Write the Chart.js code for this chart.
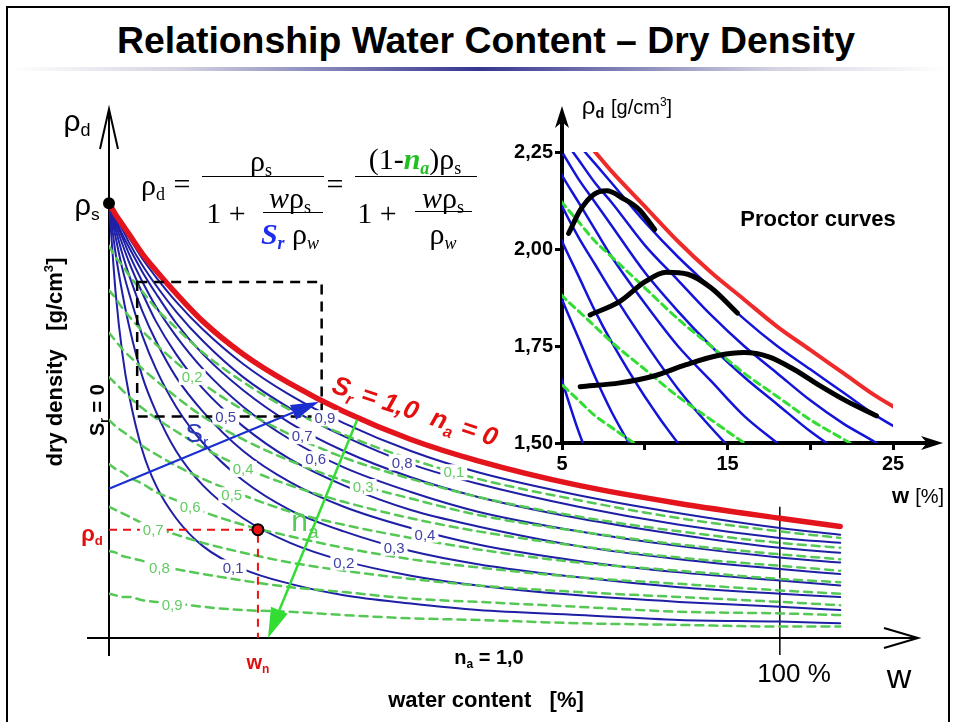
<!DOCTYPE html>
<html>
<head>
<meta charset="utf-8">
<script src="https://cdn.jsdelivr.net/npm/chart.js@4.4.1/dist/chart.umd.min.js"></script>
<style>
	body { margin: 0; width: 955px; height: 722px; overflow: hidden; position: relative; background: #fff; font-family: "Liberation Sans", Arial, sans-serif; }
	canvas { position: absolute; }
	.frame { position: absolute; left: 6px; top: 6px; width: 940px; height: 740px; border: 2px solid #000; }
	.rule { position: absolute; left: 10px; top: 67px; width: 936px; height: 4px; background: linear-gradient( to right, rgba(255,255,255,0), #d4d4e2 18%, #35358f 50%, #d4d4e2 82%, rgba(255,255,255,0) ); }
	.title { position: absolute; left: 0; width: 972px; top: 22px; text-align: center; font-weight: bold; font-size: 37px; line-height: 37px; white-space: nowrap; }
	.t { position: absolute; transform: translate( -50%, -50% ); white-space: nowrap; line-height: 1; }
	.t sub { font-size: 60%; vertical-align: -0.3em; line-height: 0; }
	.t sup { font-size: 60%; vertical-align: 0.65em; line-height: 0; }
	.f { font-family: "Liberation Serif", "Times New Roman", serif; font-size: 30px; }
	.bar { position: absolute; height: 0; border-top: 1.6px solid #000; }
	.rot { transform: translate( -50%, -50% ) rotate( -90deg ); }
</style>
</head>
<body>
<div class="frame"></div>
<div class="title" id="title">Relationship Water Content – Dry Density</div>
<div class="rule"></div>

<canvas id="main" width="955" height="722" style="left:0;top:0"></canvas>
<canvas id="inset" width="475" height="440" style="left:480px;top:80px"></canvas>

<!-- formula -->
<div class="t f" style="left:153px;top:185px">ρ<sub>d</sub></div>
<div class="t f" style="left:182px;top:184px">=</div>
<div class="bar" style="left:202px;top:176px;width:122px"></div>
<div class="t f" style="left:261px;top:161px">ρ<sub>s</sub></div>
<div class="t f" style="left:226px;top:213px">1 +</div>
<div class="t f" style="left:290px;top:198px"><i>w</i>ρ<sub>s</sub></div>
<div class="bar" style="left:263px;top:212px;width:60px"></div>
<div class="t f" style="left:290px;top:234px"><b><i style="color:#1d2cf0">S<sub>r</sub></i></b> ρ<sub><i>w</i></sub></div>
<div class="t f" style="left:335px;top:184px">=</div>
<div class="bar" style="left:355px;top:176px;width:122px"></div>
<div class="t f" style="left:415px;top:159px">(1-<b><i style="color:#20c020">n<sub>a</sub></i></b>)ρ<sub>s</sub></div>
<div class="t f" style="left:377px;top:213px">1 +</div>
<div class="t f" style="left:443px;top:198px"><i>w</i>ρ<sub>s</sub></div>
<div class="bar" style="left:415px;top:211px;width:57px"></div>
<div class="t f" style="left:443px;top:234px">ρ<sub><i>w</i></sub></div>

<!-- main axis texts -->
<div class="t" style="left:77px;top:121px;font-size:30px">ρ<sub>d</sub></div>
<div class="t" style="left:87px;top:205px;font-size:29px">ρ<sub>s</sub></div>
<div class="t rot" style="left:55px;top:362px;font-size:22px;font-weight:bold">dry density &nbsp; [g/cm<sup>3</sup>]</div>
<div class="t rot" style="left:97px;top:410px;font-size:20px;font-weight:bold">S<sub>r</sub> = 0</div>
<div class="t" style="left:92px;top:534px;font-size:22px;font-weight:bold;color:#e01010">ρ<sub>d</sub></div>
<div class="t" style="left:258px;top:662px;font-size:20px;font-weight:bold;color:#e01010">w<sub>n</sub></div>
<div class="t" style="left:489px;top:657px;font-size:20px;font-weight:bold">n<sub>a</sub> = 1,0</div>
<div class="t" style="left:794px;top:673px;font-size:26px">100 %</div>
<div class="t" style="left:899px;top:676px;font-size:34px">w</div>
<div class="t" style="left:486px;top:700px;font-size:22px;font-weight:bold">water content &nbsp; [%]</div>

<!-- inset texts -->
<div class="t" style="left:818px;top:219px;font-size:22px;font-weight:bold">Proctor curves</div>
<div class="t" style="left:627px;top:106px;font-size:24px">ρ<sub style="font-weight:bold">d</sub> <span style="font-size:20px">[g/cm<sup>3</sup>]</span></div>
<div class="t" style="left:918px;top:496px;font-size:22px"><b>w</b> <span style="font-size:20px">[%]</span></div>

<script>
	'use strict';

	// ---- main chart: water content w [%] vs dry density rho_d [g/cm3] ----
	const waterContent = [ 0, 1, 2, 3, 5, 7, 10, 14, 20, 27, 35, 45, 55, 70, 85, 100, 109 ];

	// Sr = 1,0 / na = 0 (red)
	const drySat10 = [ 2.65, 2.58, 2.52, 2.46, 2.34, 2.24, 2.10, 1.93, 1.73, 1.55, 1.38, 1.21, 1.08, 0.93, 0.82, 0.73, 0.68 ];

	// Sr = 0,1 ... 0,9 (blue)
	const satLabels = [ '0,1', '0,2', '0,3', '0,4', '0,5', '0,6', '0,7', '0,8', '0,9' ];
	const drySat = [
		[ 2.65, 2.10, 1.73, 1.48, 1.14, 0.93, 0.73, 0.56, 0.42, 0.33, 0.26, 0.21, 0.17, 0.14, 0.11, 0.10, 0.09 ],
		[ 2.65, 2.34, 2.10, 1.90, 1.59, 1.38, 1.14, 0.93, 0.73, 0.58, 0.47, 0.38, 0.32, 0.26, 0.22, 0.19, 0.17 ],
		[ 2.65, 2.44, 2.25, 2.10, 1.84, 1.64, 1.41, 1.19, 0.96, 0.78, 0.65, 0.53, 0.45, 0.37, 0.31, 0.27, 0.25 ],
		[ 2.65, 2.49, 2.34, 2.21, 1.99, 1.81, 1.59, 1.38, 1.14, 0.95, 0.80, 0.67, 0.57, 0.47, 0.40, 0.35, 0.32 ],
		[ 2.65, 2.52, 2.40, 2.29, 2.10, 1.93, 1.73, 1.52, 1.29, 1.09, 0.93, 0.78, 0.68, 0.56, 0.48, 0.42, 0.39 ],
		[ 2.65, 2.54, 2.44, 2.34, 2.17, 2.02, 1.84, 1.64, 1.41, 1.21, 1.04, 0.89, 0.77, 0.65, 0.56, 0.49, 0.46 ],
		[ 2.65, 2.55, 2.46, 2.38, 2.23, 2.10, 1.92, 1.73, 1.51, 1.31, 1.14, 0.98, 0.86, 0.73, 0.63, 0.55, 0.52 ],
		[ 2.65, 2.57, 2.49, 2.41, 2.27, 2.15, 1.99, 1.81, 1.59, 1.40, 1.23, 1.06, 0.94, 0.80, 0.69, 0.61, 0.58 ],
		[ 2.65, 2.57, 2.50, 2.44, 2.31, 2.20, 2.05, 1.88, 1.67, 1.48, 1.31, 1.14, 1.01, 0.87, 0.76, 0.67, 0.63 ],
	];

	// na = 0,1 ... 0,9 (green dashed)
	const airLabels = [ '0,1', '0,2', '0,3', '0,4', '0,5', '0,6', '0,7', '0,8', '0,9' ];
	const dryAir = [
		[ 2.39, 2.32, 2.27, 2.21, 2.11, 2.01, 1.89, 1.74, 1.56, 1.39, 1.24, 1.09, 0.97, 0.84, 0.73, 0.65, 0.61 ],
		[ 2.12, 2.07, 2.01, 1.96, 1.87, 1.79, 1.68, 1.55, 1.39, 1.24, 1.10, 0.97, 0.86, 0.74, 0.65, 0.58, 0.55 ],
		[ 1.86, 1.81, 1.76, 1.72, 1.64, 1.57, 1.47, 1.35, 1.21, 1.08, 0.96, 0.85, 0.75, 0.65, 0.57, 0.51, 0.48 ],
		[ 1.59, 1.55, 1.51, 1.47, 1.40, 1.34, 1.26, 1.16, 1.04, 0.93, 0.83, 0.73, 0.65, 0.56, 0.49, 0.44, 0.41 ],
		[ 1.33, 1.29, 1.26, 1.23, 1.17, 1.12, 1.05, 0.97, 0.87, 0.77, 0.69, 0.61, 0.54, 0.46, 0.41, 0.36, 0.34 ],
		[ 1.06, 1.03, 1.01, 0.98, 0.94, 0.89, 0.84, 0.77, 0.69, 0.62, 0.55, 0.48, 0.43, 0.37, 0.33, 0.29, 0.27 ],
		[ 0.80, 0.78, 0.76, 0.74, 0.70, 0.67, 0.63, 0.58, 0.52, 0.46, 0.41, 0.36, 0.32, 0.28, 0.25, 0.22, 0.20 ],
		[ 0.53, 0.52, 0.50, 0.49, 0.47, 0.45, 0.42, 0.39, 0.35, 0.31, 0.28, 0.24, 0.22, 0.19, 0.16, 0.15, 0.14 ],
		[ 0.27, 0.26, 0.25, 0.25, 0.23, 0.22, 0.21, 0.19, 0.17, 0.16, 0.14, 0.12, 0.11, 0.09, 0.08, 0.07, 0.07 ],
	];

	// where the curve labels sit: [w, rho]
	const satLabelAt = [ [ 18.5, 0.43 ], [ 35.0, 0.46 ], [ 42.5, 0.55 ], [ 47.1, 0.63 ], [ 17.4, 1.35 ], [ 30.8, 1.09 ], [ 28.8, 1.23 ], [ 43.7, 1.07 ], [ 32.2, 1.34 ] ];
	const airLabelAt = [ [ 51.4, 1.01 ], [ 12.4, 1.59 ], [ 37.9, 0.92 ], [ 20.0, 1.03 ], [ 18.3, 0.87 ], [ 12.1, 0.80 ], [ 6.6, 0.66 ], [ 7.5, 0.43 ], [ 9.4, 0.20 ] ];

	const solidDensity = 2.65;
	const pointN = [ 22.2, 0.66 ];          // (w_n, rho_d)
	const zoomBox = [ 4.2, 31.7, 1.35, 2.17 ];
	const srArrow = [ [ 0, 0.91 ], [ 31.3, 1.44 ] ];
	const naArrow = [ [ 37.0, 1.33 ], [ 23.7, 0 ] ];

	// ---- inset: Proctor curves ----
	const proctorW = [ 4, 5, 6, 7, 8, 10, 12, 14, 16, 18, 20, 22, 24, 26 ];
	const proctorSat10 = [ 2.41, 2.35, 2.30, 2.25, 2.20, 2.11, 2.02, 1.94, 1.87, 1.80, 1.74, 1.68, 1.62, 1.57 ];
	const proctorSat = [ // Sr 0,2 ... 0,9
		[ 1.79, 1.66, 1.53, 1.42, null, null, null, null, null, null, null, null, null, null ],
		[ 1.98, 1.87, 1.77, 1.67, 1.58, 1.43, null, null, null, null, null, null, null, null ],
		[ 2.12, 2.02, 1.93, 1.84, 1.76, 1.62, 1.50, 1.40, null, null, null, null, null, null ],
		[ 2.20, 2.11, 2.03, 1.96, 1.89, 1.76, 1.64, 1.54, 1.45, 1.37, null, null, null, null ],
		[ 2.27, 2.19, 2.12, 2.05, 1.98, 1.86, 1.75, 1.66, 1.57, 1.50, 1.43, 1.36, null, null ],
		[ 2.32, 2.25, 2.18, 2.12, 2.06, 1.94, 1.84, 1.75, 1.67, 1.60, 1.53, 1.47, 1.41, 1.35 ],
		[ 2.36, 2.29, 2.23, 2.17, 2.12, 2.01, 1.92, 1.83, 1.75, 1.68, 1.61, 1.55, 1.50, 1.44 ],
		[ 2.39, 2.33, 2.27, 2.22, 2.17, 2.07, 1.98, 1.90, 1.82, 1.75, 1.69, 1.63, 1.57, 1.52 ],
	];
	const proctorAir = [ // na 0,1 0,2 0,3
		[ 2.17, 2.12, 2.07, 2.02, 1.98, 1.90, 1.82, 1.75, 1.68, 1.62, 1.56, 1.51, 1.46, 1.41 ],
		[ 1.93, 1.88, 1.84, 1.80, 1.76, 1.69, 1.62, 1.56, 1.50, 1.44, null, null, null, null ],
		[ 1.69, 1.65, 1.61, 1.57, 1.54, 1.48, 1.42, null, null, null, null, null, null, null ],
	];
	const proctorCurveW = [
		[ 5.4, 6.1, 6.9, 7.7, 8.7, 9.7, 10.6 ],
		[ 6.7, 8.5, 10.0, 11.3, 12.6, 14.0, 15.6 ],
		[ 6.1, 8.5, 10.5, 12.5, 14.5, 16.0, 17.5, 19.0, 20.5, 22.2, 24.0 ],
	];
	const proctorCurveRho = [
		[ 2.04, 2.10, 2.14, 2.15, 2.13, 2.10, 2.05 ],
		[ 1.830, 1.865, 1.915, 1.940, 1.935, 1.900, 1.835 ],
		[ 1.645, 1.655, 1.672, 1.702, 1.726, 1.733, 1.722, 1.690, 1.650, 1.608, 1.570 ],
	];
	const rhoTicks = [ 1.5, 1.75, 2.0, 2.25 ];
	const wTicks = [ 5, 10, 15, 20, 25 ];
	const wTickLabels = [ '5', '', '15', '', '25' ];

	const FONT = '"Liberation Sans", Arial, sans-serif';
	const BLUE = '#1f1fa6', GREEN = '#55c855', RED = '#e3141c';

	const pts = ( xs, ys ) => xs.map( ( x, i ) => ( { x, y: ys[ i ] } ) );
	const line = ( xs, ys, color, width, dash ) => ( {
		data: pts( xs, ys ), borderColor: color, borderWidth: width, borderDash: dash || [],
		pointRadius: 0, cubicInterpolationMode: 'monotone', borderCapStyle: 'round', fill: false, spanGaps: false,
	} );

	// text with subscripts, parts = [ [ text, isSub ], ... ], drawn from x on baseline y
	function runs( ctx, parts, x, y, size, style, color, measureOnly ) {
		let cx = x;
		ctx.fillStyle = color;
		ctx.textAlign = 'left';
		ctx.textBaseline = 'alphabetic';
		for ( const [ t, sub ] of parts ) {
			ctx.font = `${ style } ${ sub ? Math.round( size * 0.62 ) : size }px ${ FONT }`;
			if ( ! measureOnly ) ctx.fillText( t, cx, y + ( sub ? size * 0.24 : 0 ) );
			cx += ctx.measureText( t ).width;
		}
		return cx - x;
	}

	function arrow( ctx, x1, y1, x2, y2, color, width, head, half ) {
		const a = Math.atan2( y2 - y1, x2 - x1 );
		const bx = x2 - head * Math.cos( a ), by = y2 - head * Math.sin( a );
		ctx.save();
		ctx.strokeStyle = color; ctx.fillStyle = color; ctx.lineWidth = width;
		ctx.beginPath(); ctx.moveTo( x1, y1 ); ctx.lineTo( bx, by ); ctx.stroke();
		ctx.beginPath(); ctx.moveTo( x2, y2 );
		ctx.lineTo( bx + half * Math.sin( a ), by - half * Math.cos( a ) );
		ctx.lineTo( bx - half * Math.sin( a ), by + half * Math.cos( a ) );
		ctx.closePath(); ctx.fill();
		ctx.restore();
	}

	function curveLabel( ctx, text, x, y, color ) {
		ctx.font = `15px ${ FONT }`;
		const w = ctx.measureText( text ).width;
		ctx.fillStyle = '#fff';
		ctx.fillRect( x - w / 2 - 3, y - 8, w + 6, 16 );
		ctx.fillStyle = color;
		ctx.textAlign = 'center';
		ctx.textBaseline = 'middle';
		ctx.fillText( text, x, y + 1 );
	}

	const mainDecor = {
		id: 'mainDecor',
		beforeDatasetsDraw( chart ) {
			const { ctx, chartArea: area } = chart;
			const X = chart.scales.x, Y = chart.scales.y;
			const x0 = X.getPixelForValue( 0 ), y0 = Y.getPixelForValue( 0 );
			ctx.save();
			ctx.strokeStyle = '#000';
			ctx.lineWidth = 2;
			ctx.beginPath();
			ctx.moveTo( x0, y0 + 18 ); ctx.lineTo( x0, area.top - 4 );
			ctx.moveTo( x0 - 9, area.top + 36 ); ctx.lineTo( x0, area.top - 4 ); ctx.lineTo( x0 + 9, area.top + 36 );
			ctx.moveTo( x0 - 22, y0 ); ctx.lineTo( area.right + 4, y0 );
			ctx.moveTo( area.right - 30, y0 - 10 ); ctx.lineTo( area.right + 4, y0 ); ctx.lineTo( area.right - 30, y0 + 10 );
			ctx.stroke();
			// 100 % mark
			ctx.lineWidth = 1.5;
			ctx.beginPath();
			ctx.moveTo( X.getPixelForValue( 100 ), Y.getPixelForValue( 0.80 ) );
			ctx.lineTo( X.getPixelForValue( 100 ), y0 + 17 );
			ctx.stroke();
			ctx.restore();
		},
		afterDatasetsDraw( chart ) {
			const { ctx } = chart;
			const X = chart.scales.x, Y = chart.scales.y;
			const px = ( w ) => X.getPixelForValue( w ), py = ( r ) => Y.getPixelForValue( r );
			ctx.save();

			// zoom box of the inset
			ctx.strokeStyle = '#000'; ctx.lineWidth = 2.5; ctx.setLineDash( [ 10, 7 ] );
			ctx.strokeRect( px( zoomBox[ 0 ] ), py( zoomBox[ 3 ] ), px( zoomBox[ 1 ] ) - px( zoomBox[ 0 ] ), py( zoomBox[ 2 ] ) - py( zoomBox[ 3 ] ) );

			// rho_d / w_n guide lines
			ctx.strokeStyle = '#ee1111'; ctx.lineWidth = 2; ctx.setLineDash( [ 8, 6 ] );
			ctx.beginPath();
			ctx.moveTo( px( 0 ), py( pointN[ 1 ] ) ); ctx.lineTo( px( pointN[ 0 ] ), py( pointN[ 1 ] ) ); ctx.lineTo( px( pointN[ 0 ] ), py( 0 ) );
			ctx.stroke();
			ctx.setLineDash( [] );

			// curve labels
			satLabelAt.forEach( ( [ w, r ], i ) => curveLabel( ctx, satLabels[ i ], px( w ), py( r ), '#4040a6' ) );
			airLabelAt.forEach( ( [ w, r ], i ) => curveLabel( ctx, airLabels[ i ], px( w ), py( r ), '#62cc62' ) );

			// Sr and na arrows
			arrow( ctx, px( srArrow[ 0 ][ 0 ] ), py( srArrow[ 0 ][ 1 ] ), px( srArrow[ 1 ][ 0 ] ), py( srArrow[ 1 ][ 1 ] ), '#1b2fd0', 2, 28, 8 );
			arrow( ctx, px( naArrow[ 0 ][ 0 ] ), py( naArrow[ 0 ][ 1 ] ), px( naArrow[ 1 ][ 0 ] ), py( naArrow[ 1 ][ 1 ] ), '#33dd33', 2.5, 30, 9 );

			let w = runs( ctx, [ [ 'S' ], [ 'r', 1 ] ], 0, 0, 26, 'normal', '#2a3ab8', true );
			runs( ctx, [ [ 'S' ], [ 'r', 1 ] ], px( 13.1 ) - w / 2, py( 1.25 ) + 9, 26, 'normal', '#2a3ab8' );
			w = runs( ctx, [ [ 'n' ], [ 'a', 1 ] ], 0, 0, 30, 'normal', '#55cc55', true );
			runs( ctx, [ [ 'n' ], [ 'a', 1 ] ], px( 29.2 ) - w / 2, py( 0.71 ) + 9, 30, 'normal', '#55cc55' );

			// Sr = 1,0 label along the red curve
			ctx.save();
			ctx.translate( px( 33.0 ), py( 1.50 ) );
			ctx.rotate( 0.32 );
			runs( ctx, [ [ 'S' ], [ 'r', 1 ], [ ' = 1,0  n' ], [ 'a', 1 ], [ ' = 0' ] ], 0, 0, 26, 'italic bold', '#e41010' );
			ctx.restore();

			// rho_s and rho_d points
			ctx.fillStyle = '#000';
			ctx.beginPath(); ctx.arc( px( 0 ), py( solidDensity ), 6, 0, Math.PI * 2 ); ctx.fill();
			ctx.fillStyle = '#ee1111'; ctx.strokeStyle = '#000'; ctx.lineWidth = 2;
			ctx.beginPath(); ctx.arc( px( pointN[ 0 ] ), py( pointN[ 1 ] ), 5.5, 0, Math.PI * 2 ); ctx.fill(); ctx.stroke();
			ctx.restore();
		},
	};

	const mainSets = [ line( waterContent, drySat10, RED, 5.5 ) ];
	dryAir.forEach( ( ys ) => mainSets.push( line( waterContent, ys, GREEN, 2.5, [ 8, 6 ] ) ) );
	drySat.forEach( ( ys ) => mainSets.push( line( waterContent, ys, BLUE, 2 ) ) );

	new Chart( document.getElementById( 'main' ), {
		type: 'line',
		data: { datasets: mainSets },
		options: {
			responsive: false, animation: false, devicePixelRatio: 1,
			layout: { padding: { left: 109, right: 41, top: 113, bottom: 84 } },
			plugins: { legend: { display: false }, tooltip: { enabled: false } },
			scales: {
				x: { type: 'linear', min: 0, max: 120, display: false },
				y: { type: 'linear', min: 0, max: 3.2, display: false },
			},
		},
		plugins: [ mainDecor ],
	} );

	// ---- inset ----
	const insetDecor = {
		id: 'insetDecor',
		afterDraw( chart ) {
			const { ctx, chartArea: a } = chart;
			ctx.save();
			ctx.strokeStyle = '#000'; ctx.fillStyle = '#000'; ctx.lineWidth = 4;
			ctx.beginPath();
			ctx.moveTo( a.left, a.top + 2 ); ctx.lineTo( a.left, a.top - 36 );
			ctx.moveTo( a.right - 2, a.bottom ); ctx.lineTo( a.right + 40, a.bottom );
			ctx.stroke();
			ctx.beginPath();
			ctx.moveTo( a.left, a.top - 46 ); ctx.lineTo( a.left - 7, a.top - 24 ); ctx.lineTo( a.left, a.top - 30 ); ctx.lineTo( a.left + 7, a.top - 24 );
			ctx.closePath(); ctx.fill();
			ctx.beginPath();
			ctx.moveTo( a.right + 50, a.bottom ); ctx.lineTo( a.right + 28, a.bottom - 7 ); ctx.lineTo( a.right + 34, a.bottom ); ctx.lineTo( a.right + 28, a.bottom + 7 );
			ctx.closePath(); ctx.fill();
			ctx.restore();
		},
	};

	const insetSets = [];
	proctorCurveW.forEach( ( xs, i ) => insetSets.push( Object.assign( line( xs, proctorCurveRho[ i ], '#000', 5 ), { clip: 0 } ) ) );
	insetSets.push( Object.assign( line( proctorW, proctorSat10, '#ee2a2a', 4 ), { clip: 0 } ) );
	proctorAir.forEach( ( ys ) => insetSets.push( Object.assign( line( proctorW, ys, '#33dd33', 3, [ 7, 5 ] ), { clip: 0 } ) ) );
	proctorSat.forEach( ( ys ) => insetSets.push( Object.assign( line( proctorW, ys, '#1414d8', 2.5 ), { clip: 0 } ) ) );

	const tickFont = { family: FONT, size: 20, weight: 'bold' };
	new Chart( document.getElementById( 'inset' ), {
		type: 'line',
		data: { datasets: insetSets },
		options: {
			responsive: false, animation: false, devicePixelRatio: 1,
			layout: { padding: { left: 0, right: 62, top: 72, bottom: 0 } },
			plugins: { legend: { display: false }, tooltip: { enabled: false } },
			scales: {
				x: {
					type: 'linear', min: 5, max: 25,
					afterBuildTicks: ( s ) => { s.ticks = wTicks.map( ( v ) => ( { value: v } ) ); },
					afterFit: ( s ) => { s.height = 77; },
					ticks: { autoSkip: false, maxRotation: 0, color: '#000', font: tickFont, padding: 2, callback: ( v ) => wTickLabels[ wTicks.indexOf( v ) ] ?? '' },
					grid: { drawOnChartArea: false, drawTicks: true, tickLength: 7, color: '#000', lineWidth: 3 },
					border: { display: true, color: '#000', width: 4 },
				},
				y: {
					type: 'linear', min: 1.5, max: 2.25,
					afterBuildTicks: ( s ) => { s.ticks = rhoTicks.map( ( v ) => ( { value: v } ) ); },
					afterFit: ( s ) => { s.width = 82; },
					ticks: { color: '#000', font: tickFont, padding: 2, callback: ( v ) => v.toFixed( 2 ).replace( '.', ',' ) },
					grid: { drawOnChartArea: false, drawTicks: true, tickLength: 7, color: '#000', lineWidth: 3 },
					border: { display: true, color: '#000', width: 4 },
				},
			},
		},
		plugins: [ insetDecor ],
	} );

	// squeeze the title to the slide's width (centred on x = 486)
	const title = document.getElementById( 'title' );
	const range = document.createRange();
	range.selectNodeContents( title );
	const tw = range.getBoundingClientRect().width;
	title.style.transform = `scaleX(${ 738 / tw })`;
	title.style.transformOrigin = '486px 0';
</script>
</body>
</html>
